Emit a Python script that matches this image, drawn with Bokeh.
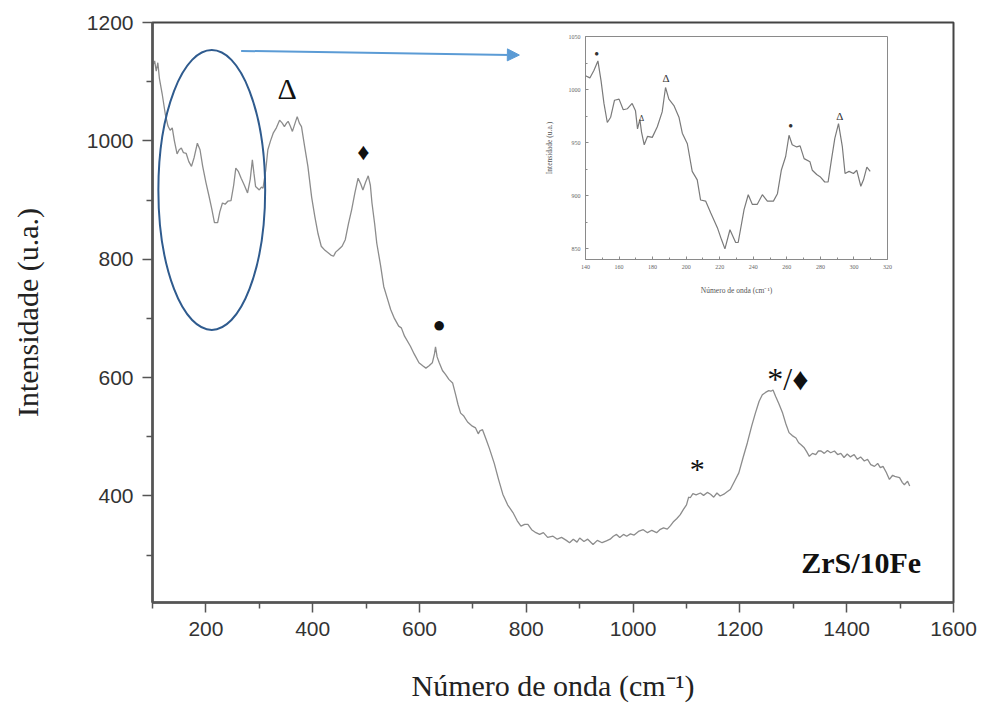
from bokeh.plotting import figure
from bokeh.layouts import column
from bokeh.models import FixedTicker, Arrow, NormalHead, ColumnDataSource
from bokeh.core.properties import value
from bokeh.embed import file_html
from bokeh.resources import INLINE

# Raman spectrum, ZrS/10Fe (main range)
wavenumber = [
    100, 104, 107, 110, 113, 118, 124, 129, 133, 137, 141, 146, 150, 154, 158, 163, 168, 173, 178, 184,
    189, 194, 200, 206, 211, 216, 222, 226, 231, 236, 241, 247, 252, 256, 261, 266, 272, 278, 283, 287,
    290, 293, 300, 304, 307, 312, 316, 321, 326, 332, 338, 343, 347, 351, 354, 358, 362, 367, 371, 375,
    379, 385, 391, 398, 404, 410, 416, 423, 430, 434, 439, 443, 448, 455, 461, 467, 473, 479, 485, 490,
    494, 499, 504, 508, 511, 516, 520, 527, 533, 540, 546, 553, 561, 566, 572, 583, 590, 599, 606, 612,
    618, 624, 628, 630, 633, 637, 643, 649, 655, 662, 668, 672, 677, 683, 690, 699, 705, 710, 713, 718,
    725, 731, 740, 748, 756, 765, 775, 783, 790, 797, 803, 810, 818, 825, 832, 840, 850, 858, 866, 875,
    881, 888, 895, 900, 908, 915, 925, 933, 942, 950, 957, 963, 969, 975, 982, 988, 995, 1002, 1010, 1019,
    1027, 1035, 1044, 1050, 1057, 1064, 1070, 1076, 1082, 1088, 1094, 1100, 1104, 1107, 1112, 1118, 1126, 1132, 1139, 1145,
    1151, 1157, 1163, 1170, 1176, 1182, 1190, 1198, 1206, 1214, 1222, 1229, 1236, 1242, 1248, 1254, 1258, 1262, 1267, 1273,
    1280, 1286, 1292, 1298, 1305, 1310, 1314, 1320, 1325, 1330, 1336, 1342, 1347, 1352, 1358, 1364, 1370, 1377, 1383, 1389,
    1395, 1401, 1407, 1414, 1420, 1426, 1433, 1439, 1445, 1452, 1458, 1463, 1468, 1474, 1480, 1486, 1490, 1499, 1504, 1508,
    1514, 1518,
]
intensity = [
    1125, 1135, 1118, 1132, 1105, 1080, 1045, 1025, 1018, 1022, 1000, 978, 985, 988, 980, 979, 965, 957, 972, 996,
    985, 957, 930, 906, 885, 862, 862, 880, 895, 893, 898, 899, 925, 954, 948, 937, 925, 912, 935, 968,
    945, 923, 917, 922, 920, 950, 985, 1000, 1013, 1022, 1035, 1030, 1024, 1030, 1033, 1025, 1016, 1030, 1041, 1030,
    1024, 990, 957, 905, 872, 843, 822, 815, 810, 807, 805, 812, 816, 822, 833, 860, 884, 912, 937, 927,
    917, 930, 941, 925, 895, 860, 827, 790, 754, 733, 715, 700, 687, 684, 670, 653, 640, 625, 620, 616,
    620, 625, 640, 652, 635, 625, 612, 605, 597, 591, 570, 555, 540, 535, 525, 518, 515, 505, 510, 512,
    495, 480, 455, 428, 403, 385, 372, 358, 349, 352, 352, 343, 338, 335, 338, 330, 332, 327, 330, 325,
    321, 327, 322, 329, 323, 327, 318, 325, 321, 324, 327, 332, 335, 330, 335, 332, 336, 334, 340, 343,
    338, 342, 338, 343, 346, 344, 350, 357, 362, 368, 377, 385, 398, 397, 404, 402, 405, 401, 406, 403,
    398, 405, 400, 403, 407, 411, 425, 439, 465, 490, 518, 540, 560, 571, 575, 578, 577, 579, 568, 556,
    540, 522, 507, 502, 498, 490, 487, 482, 475, 467, 472, 470, 476, 476, 472, 477, 473, 476, 470, 472,
    465, 471, 466, 470, 462, 466, 459, 462, 453, 450, 455, 448, 450, 440, 428, 435, 433, 431, 423, 419,
    425, 417,
]

# Zoomed region 140-310 cm-1
zoom_wavenumber = [
    140, 142.6, 145, 147.4, 149.3, 151, 153, 155, 157.3, 160, 162.5, 165, 167.8, 169.8, 171, 172.4, 173.4, 175, 177, 179.8,
    182.8, 185.7, 187.7, 189.7, 192.7, 195.7, 197.7, 200.7, 203.6, 206.6, 208.6, 211.6, 214.6, 218.6, 221, 223.1, 226.1, 229.5, 231, 234.5,
    237, 239.4, 242.4, 245.4, 248.4, 252, 254.4, 256.7, 259.3, 261.3, 263.2, 265.9, 267.9, 270.3, 273.8, 275.2, 277.8, 279.8, 282.6, 284.6,
    286.6, 288.6, 290.8, 293.1, 294.7, 297.1, 299.7, 301.7, 304.1, 305.7, 307.7, 309.7,
]
zoom_intensity = [
    1013, 1011, 1018, 1027, 1008, 987, 969, 974, 990, 991, 981, 982, 987, 980, 963, 972, 960, 948, 956, 955,
    965, 979, 1002, 991, 985, 974, 959, 949, 923, 915, 896, 895, 884, 870, 859, 850, 868, 856, 856, 887,
    901, 892, 892, 901, 895, 895, 902, 924, 937, 957, 948, 946, 947, 935, 932, 924, 920, 918, 913, 913,
    934, 954, 968, 946, 921, 923, 921, 924, 909, 915, 927, 923,
]

# Band assignments
band_x = [352, 495, 637, 1120, 1290]
band_y = [1089, 981, 689, 446, 597]
band_text = ["Δ", "♦", "●", "*", "*/♦"]
band_size = ["30px", "24px", "22px", "30px", "32px"]

zoom_band_x = [146.6, 188, 173.4, 262.3, 291.6]
zoom_band_y = [1034, 1011, 973, 966, 975]
zoom_band_text = ["●", "Δ", "Δ", "●", "Δ"]
zoom_band_size = ["8px", "11px", "8px", "8px", "11px"]

x_ticks = [200, 400, 600, 800, 1000, 1200, 1400, 1600]
x_minor = [100, 300, 500, 700, 900, 1100, 1300, 1500]
y_ticks = [400, 600, 800, 1000, 1200]
y_minor = [300, 500, 700, 900, 1100]

zoom_x_ticks = [140, 160, 180, 200, 220, 240, 260, 280, 300, 320]
zoom_x_minor = [150, 170, 190, 210, 230, 250, 270, 290, 310]
zoom_y_ticks = [850, 900, 950, 1000, 1050]
zoom_y_minor = [875, 925, 975, 1025]

SERIF = "Liberation Serif"
SANS = "Liberation Sans"

# Both plots share the same side borders so their frames line up in the column
BORDER_LEFT = 152
BORDER_RIGHT = 33

p = figure(width=986, height=709, x_range=(100, 1600), y_range=(220, 1200),
           output_backend="svg", toolbar_location=None,
           min_border_left=BORDER_LEFT, min_border_right=BORDER_RIGHT,
           min_border_top=22, min_border_bottom=107)
p.xgrid.visible = False
p.ygrid.visible = False
p.outline_line_color = "#444444"
p.outline_line_width = 2

for ax, ticks, minor in ((p.xaxis[0], x_ticks, x_minor), (p.yaxis[0], y_ticks, y_minor)):
    ax.ticker = FixedTicker(ticks=ticks, minor_ticks=minor)
    ax.axis_line_color = "#555555"
    ax.axis_line_width = 2.5
    ax.major_tick_line_color = "#555555"
    ax.minor_tick_line_color = "#555555"
    ax.major_tick_line_width = 1.5
    ax.minor_tick_line_width = 1.5
    ax.major_tick_in = 0
    ax.major_tick_out = 10
    ax.minor_tick_in = 0
    ax.minor_tick_out = 6
    ax.major_label_text_font = SANS
    ax.major_label_text_font_size = "21px"
    ax.major_label_text_color = "#333333"
    ax.major_label_standoff = 9
    ax.axis_label_text_font = SERIF
    ax.axis_label_text_font_style = "normal"
    ax.axis_label_text_color = "#222222"
    ax.axis_label_text_font_size = "30px"

p.xaxis.axis_label = "Número de onda (cm⁻¹)"
p.yaxis.axis_label = "Intensidade (u.a.)"
p.xaxis.axis_label_standoff = 30
p.yaxis.axis_label_standoff = 40

p.line(wavenumber, intensity, line_color="#8c8c8c", line_width=1.3)

band_src = ColumnDataSource(dict(x=band_x, y=band_y, text=band_text, size=band_size))
p.text(x="x", y="y", text="text", source=band_src, text_font=value(SERIF), text_font_size="size",
       text_align="center", text_baseline="middle", text_color="#111111")

p.text(x=[1427], y=[288], text=["ZrS/10Fe"], text_font=value(SERIF), text_font_size="30px",
       text_font_style="bold", text_align="center", text_baseline="middle", text_color="#111111")

# Highlighted low-wavenumber region and pointer to the zoomed view
p.ellipse(x=[211], y=[917], width=[200], height=[473], fill_color=None,
          line_color="#2f5b8e", line_width=2)
p.add_layout(Arrow(end=NormalHead(size=12, fill_color="#5b9bd5", line_color="#5b9bd5"),
                   x_start=266, y_start=1152, x_end=787, y_end=1145,
                   line_color="#5b9bd5", line_width=2))

# Zoomed spectrum, laid over the upper right of the main plot
inset = figure(width=487, height=272, x_range=(140, 320), y_range=(840, 1050),
               output_backend="svg", toolbar_location=None,
               min_border_left=BORDER_LEFT, min_border_right=BORDER_RIGHT,
               min_border_top=5, min_border_bottom=44,
               styles={"position": "absolute", "left": "433px", "top": "31px", "z-index": "5"})
inset.border_fill_color = None
inset.background_fill_color = "white"
inset.xgrid.visible = False
inset.ygrid.visible = False
inset.outline_line_color = "#8a8a8a"
inset.outline_line_width = 1

for ax, ticks, minor in ((inset.xaxis[0], zoom_x_ticks, zoom_x_minor),
                         (inset.yaxis[0], zoom_y_ticks, zoom_y_minor)):
    ax.ticker = FixedTicker(ticks=ticks, minor_ticks=minor)
    ax.axis_line_color = "#8a8a8a"
    ax.major_tick_line_color = "#8a8a8a"
    ax.minor_tick_line_color = "#8a8a8a"
    ax.major_tick_in = 3
    ax.major_tick_out = 0
    ax.minor_tick_in = 2
    ax.minor_tick_out = 0
    ax.major_label_text_font = SERIF
    ax.major_label_text_font_size = "6px"
    ax.major_label_text_color = "#666666"
    ax.major_label_standoff = 5
    ax.axis_label_text_font = SERIF
    ax.axis_label_text_font_style = "normal"
    ax.axis_label_text_color = "#555555"
    ax.axis_label_text_font_size = "7.5px"

inset.xaxis.axis_label = "Número de onda (cm⁻¹)"
inset.yaxis.axis_label = "Intensidade (u.a.)"
inset.xaxis.axis_label_standoff = 14
inset.yaxis.axis_label_standoff = 12

inset.line(zoom_wavenumber, zoom_intensity, line_color="#7a7a7a", line_width=1.2)
zoom_src = ColumnDataSource(dict(x=zoom_band_x, y=zoom_band_y, text=zoom_band_text, size=zoom_band_size))
inset.text(x="x", y="y", text="text", source=zoom_src, text_font=value(SERIF), text_font_size="size",
           text_align="center", text_baseline="middle", text_color="#333333")

layout = column(p, inset, styles={"position": "relative"})

open("out.html", "w").write(file_html(layout, INLINE))
